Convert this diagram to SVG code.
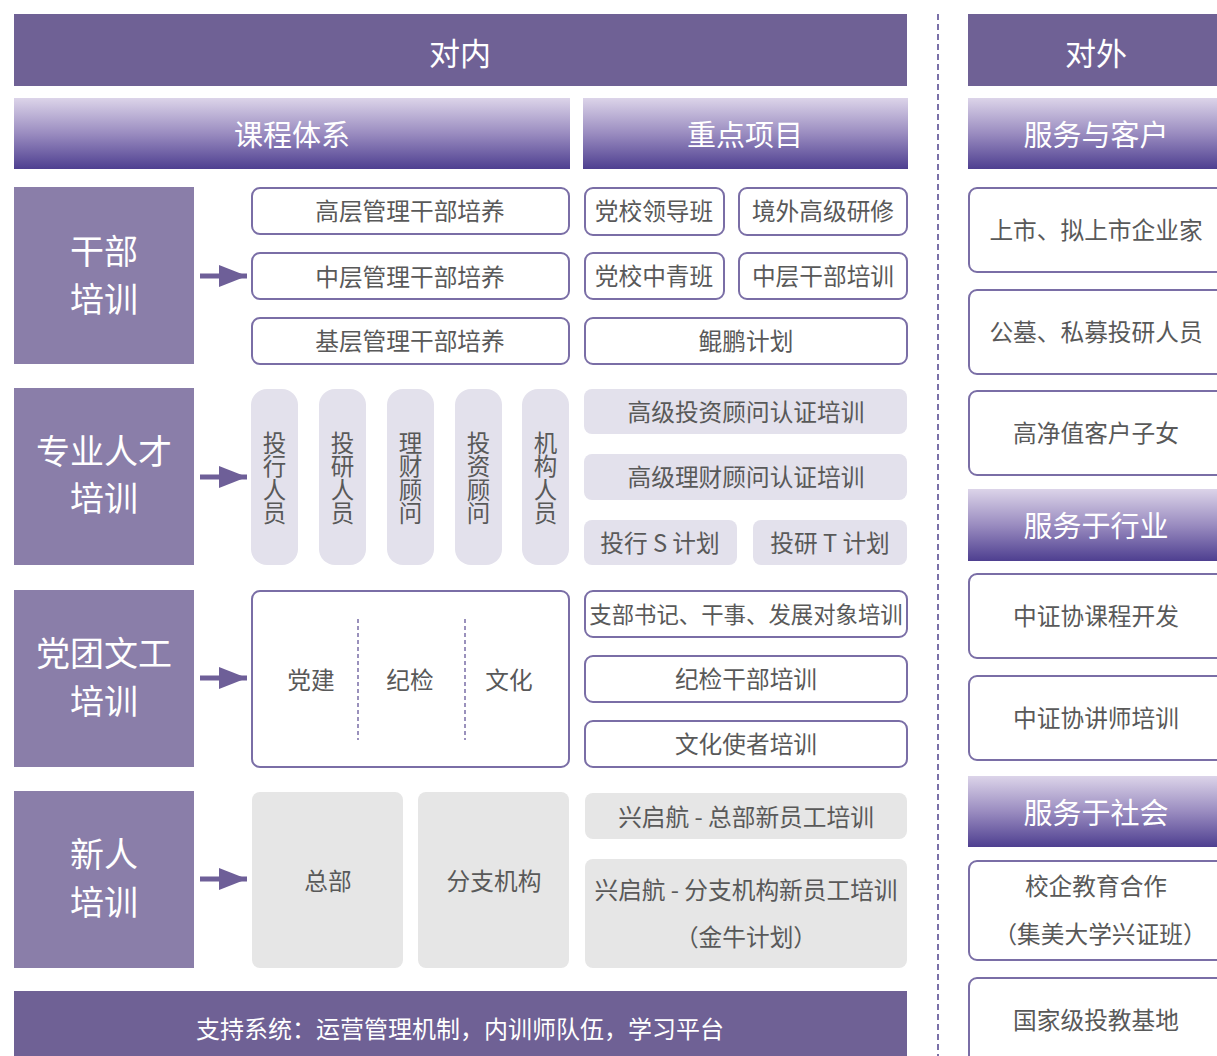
<svg xmlns="http://www.w3.org/2000/svg" width="1217" height="1056" viewBox="0 0 1217 1056">
<defs>
<linearGradient id="hg" x1="0" y1="0" x2="0" y2="1">
<stop offset="0" stop-color="#dcd4e9"/>
<stop offset="0.5" stop-color="#9a8cc0"/>
<stop offset="1" stop-color="#4e3f90"/>
</linearGradient>
<marker id="ah" viewBox="0 0 10 10" refX="10" refY="5" markerWidth="28" markerHeight="22" markerUnits="userSpaceOnUse" orient="auto" preserveAspectRatio="none">
<path d="M0,0 L10,5 L0,10 z" fill="#6e5f98"/>
</marker>
</defs>
<style>
text{font-family:"Noto Sans CJK SC","Noto Sans",sans-serif;dominant-baseline:central;text-anchor:middle}
.top{fill:#6f6195}
.tt{fill:#fff;font-size:31px}
.hb{fill:url(#hg)}
.ht{fill:#fff;font-size:29px}
.lab{fill:#8a7ea9}
.lt{fill:#fff;font-size:34px}
.ob{fill:#fff;stroke:#7a6ea6;stroke-width:2}
.pb{fill:#e3e1ec}
.gb{fill:#e6e6e6}
.t{fill:#595959;font-size:23.7px}
.v{fill:#595959;font-size:23.5px;writing-mode:vertical-rl;text-orientation:upright}
.conn{stroke:#6e5f98;stroke-width:5;fill:none}
</style>
<rect x="0" y="0" width="1217" height="1056" fill="#fff"/>

<g id="header-inner"><rect class="top" x="14" y="14" width="893" height="72"/><text class="tt" x="460" y="51">对内</text></g>
<g id="header-outer"><rect class="top" x="968" y="14" width="249" height="72"/><text class="tt" x="1096" y="51">对外</text></g>
<line x1="938" y1="14" x2="938" y2="1056" stroke="#7a70a8" stroke-width="2" stroke-dasharray="6,4"/>

<g id="h-course"><rect class="hb" x="14" y="98" width="556" height="71"/><text class="ht" x="292" y="133">课程体系</text></g>
<g id="h-key"><rect class="hb" x="583" y="98" width="325" height="71"/><text class="ht" x="745" y="133">重点项目</text></g>
<g id="h-client"><rect class="hb" x="968" y="98" width="249" height="71"/><text class="ht" x="1096" y="133">服务与客户</text></g>
<g id="h-industry"><rect class="hb" x="968" y="489" width="249" height="72"/><text class="ht" x="1096" y="524">服务于行业</text></g>
<g id="h-society"><rect class="hb" x="968" y="776" width="249" height="71"/><text class="ht" x="1096" y="811">服务于社会</text></g>

<g id="l-cadre"><rect class="lab" x="14" y="187" width="180" height="177"/><text class="lt" x="104" y="249">干部</text><text class="lt" x="104" y="297">培训</text></g>
<g id="l-pro"><rect class="lab" x="14" y="388" width="180" height="177"/><text class="lt" x="104" y="449">专业人才</text><text class="lt" x="104" y="496">培训</text></g>
<g id="l-party"><rect class="lab" x="14" y="590" width="180" height="177"/><text class="lt" x="104" y="651">党团文工</text><text class="lt" x="104" y="699">培训</text></g>
<g id="l-new"><rect class="lab" x="14" y="791" width="180" height="177"/><text class="lt" x="104" y="852">新人</text><text class="lt" x="104" y="900">培训</text></g>

<g id="connectors">
<line class="conn" x1="200" y1="276" x2="247" y2="276" marker-end="url(#ah)"/>
<line class="conn" x1="200" y1="477" x2="247" y2="477" marker-end="url(#ah)"/>
<line class="conn" x1="200" y1="678" x2="247" y2="678" marker-end="url(#ah)"/>
<line class="conn" x1="200" y1="879" x2="247" y2="879" marker-end="url(#ah)"/>
</g>

<g id="c-senior"><rect class="ob" x="252" y="188" width="317" height="46" rx="8"/><text class="t" x="410" y="210">高层管理干部培养</text></g>
<g id="c-middle"><rect class="ob" x="252" y="253" width="317" height="46" rx="8"/><text class="t" x="410" y="276">中层管理干部培养</text></g>
<g id="c-base"><rect class="ob" x="252" y="318" width="317" height="46" rx="8"/><text class="t" x="410" y="340">基层管理干部培养</text></g>

<g id="k-lead"><rect class="ob" x="585" y="188" width="139" height="47" rx="8"/><text class="t" x="654" y="210">党校领导班</text></g>
<g id="k-abroad"><rect class="ob" x="739" y="188" width="168" height="47" rx="8"/><text class="t" x="823" y="210">境外高级研修</text></g>
<g id="k-youth"><rect class="ob" x="585" y="253" width="139" height="46" rx="8"/><text class="t" x="654" y="275">党校中青班</text></g>
<g id="k-midcadre"><rect class="ob" x="739" y="253" width="168" height="46" rx="8"/><text class="t" x="823" y="275">中层干部培训</text></g>
<g id="k-kunpeng"><rect class="ob" x="585" y="318" width="322" height="46" rx="8"/><text class="t" x="746" y="340">鲲鹏计划</text></g>

<g id="p1"><rect class="pb" x="251" y="389" width="47" height="176" rx="16"/><text class="v" x="274.5" y="478">投行人员</text></g>
<g id="p2"><rect class="pb" x="319" y="389" width="47" height="176" rx="16"/><text class="v" x="342.5" y="478">投研人员</text></g>
<g id="p3"><rect class="pb" x="387" y="389" width="47" height="176" rx="16"/><text class="v" x="410.5" y="478">理财顾问</text></g>
<g id="p4"><rect class="pb" x="455" y="389" width="47" height="176" rx="16"/><text class="v" x="478.5" y="478">投资顾问</text></g>
<g id="p5"><rect class="pb" x="522" y="389" width="47" height="176" rx="16"/><text class="v" x="545.5" y="478">机构人员</text></g>

<g id="k-invest"><rect class="pb" x="584" y="389" width="323" height="45" rx="8"/><text class="t" x="746" y="411">高级投资顾问认证培训</text></g>
<g id="k-wealth"><rect class="pb" x="584" y="454" width="323" height="46" rx="8"/><text class="t" x="746" y="476">高级理财顾问认证培训</text></g>
<g id="k-s"><rect class="pb" x="584" y="520" width="153" height="45" rx="8"/><text class="t" x="660" y="542">投行 S 计划</text></g>
<g id="k-t"><rect class="pb" x="753" y="520" width="154" height="45" rx="8"/><text class="t" x="830" y="542">投研 T 计划</text></g>

<g id="c-party"><rect class="ob" x="252" y="591" width="317" height="176" rx="8"/>
<line x1="358" y1="619" x2="358" y2="740" stroke="#7a6ea6" stroke-width="1.5" stroke-dasharray="4,3"/>
<line x1="465" y1="619" x2="465" y2="740" stroke="#7a6ea6" stroke-width="1.5" stroke-dasharray="4,3"/>
<text class="t" x="311" y="679">党建</text><text class="t" x="410" y="679">纪检</text><text class="t" x="509" y="679">文化</text></g>

<g id="k-branch"><rect class="ob" x="585" y="591" width="322" height="46" rx="8"/><text class="t" style="font-size:22.4px" x="746" y="613">支部书记、干事、发展对象培训</text></g>
<g id="k-disc"><rect class="ob" x="585" y="656" width="322" height="46" rx="8"/><text class="t" x="746" y="678">纪检干部培训</text></g>
<g id="k-culture"><rect class="ob" x="585" y="721" width="322" height="46" rx="8"/><text class="t" x="746" y="743">文化使者培训</text></g>

<g id="c-hq"><rect class="gb" x="252" y="792" width="151" height="176" rx="8"/><text class="t" x="328" y="880">总部</text></g>
<g id="c-br"><rect class="gb" x="418" y="792" width="151" height="176" rx="8"/><text class="t" x="494" y="880">分支机构</text></g>
<g id="k-xqh1"><rect class="gb" x="585" y="793" width="322" height="46" rx="8"/><text class="t" x="746" y="816">兴启航 - 总部新员工培训</text></g>
<g id="k-xqh2"><rect class="gb" x="585" y="859" width="322" height="109" rx="8"/><text class="t" x="746" y="889">兴启航 - 分支机构新员工培训</text><text class="t" x="746" y="936">（金牛计划）</text></g>

<g id="support"><rect class="top" x="14" y="991" width="893" height="65"/><text fill="#fff" font-size="24" x="460" y="1027">支持系统：运营管理机制，内训师队伍，学习平台</text></g>

<g id="o1"><rect class="ob" x="969" y="188" width="260" height="84" rx="8"/><text class="t" x="1096" y="229">上市、拟上市企业家</text></g>
<g id="o2"><rect class="ob" x="969" y="290" width="260" height="84" rx="8"/><text class="t" x="1096" y="331">公墓、私募投研人员</text></g>
<g id="o3"><rect class="ob" x="969" y="391" width="260" height="84" rx="8"/><text class="t" x="1096" y="432">高净值客户子女</text></g>
<g id="o4"><rect class="ob" x="969" y="574" width="260" height="84" rx="8"/><text class="t" x="1096" y="615">中证协课程开发</text></g>
<g id="o5"><rect class="ob" x="969" y="676" width="260" height="84" rx="8"/><text class="t" x="1096" y="717">中证协讲师培训</text></g>
<g id="o6"><rect class="ob" x="969" y="861" width="260" height="99" rx="8"/><text class="t" x="1096" y="885">校企教育合作</text><text class="t" x="1100" y="933">（集美大学兴证班）</text></g>
<g id="o7"><rect class="ob" x="969" y="978" width="260" height="90" rx="8"/><text class="t" x="1096" y="1019">国家级投教基地</text></g>
</svg>
